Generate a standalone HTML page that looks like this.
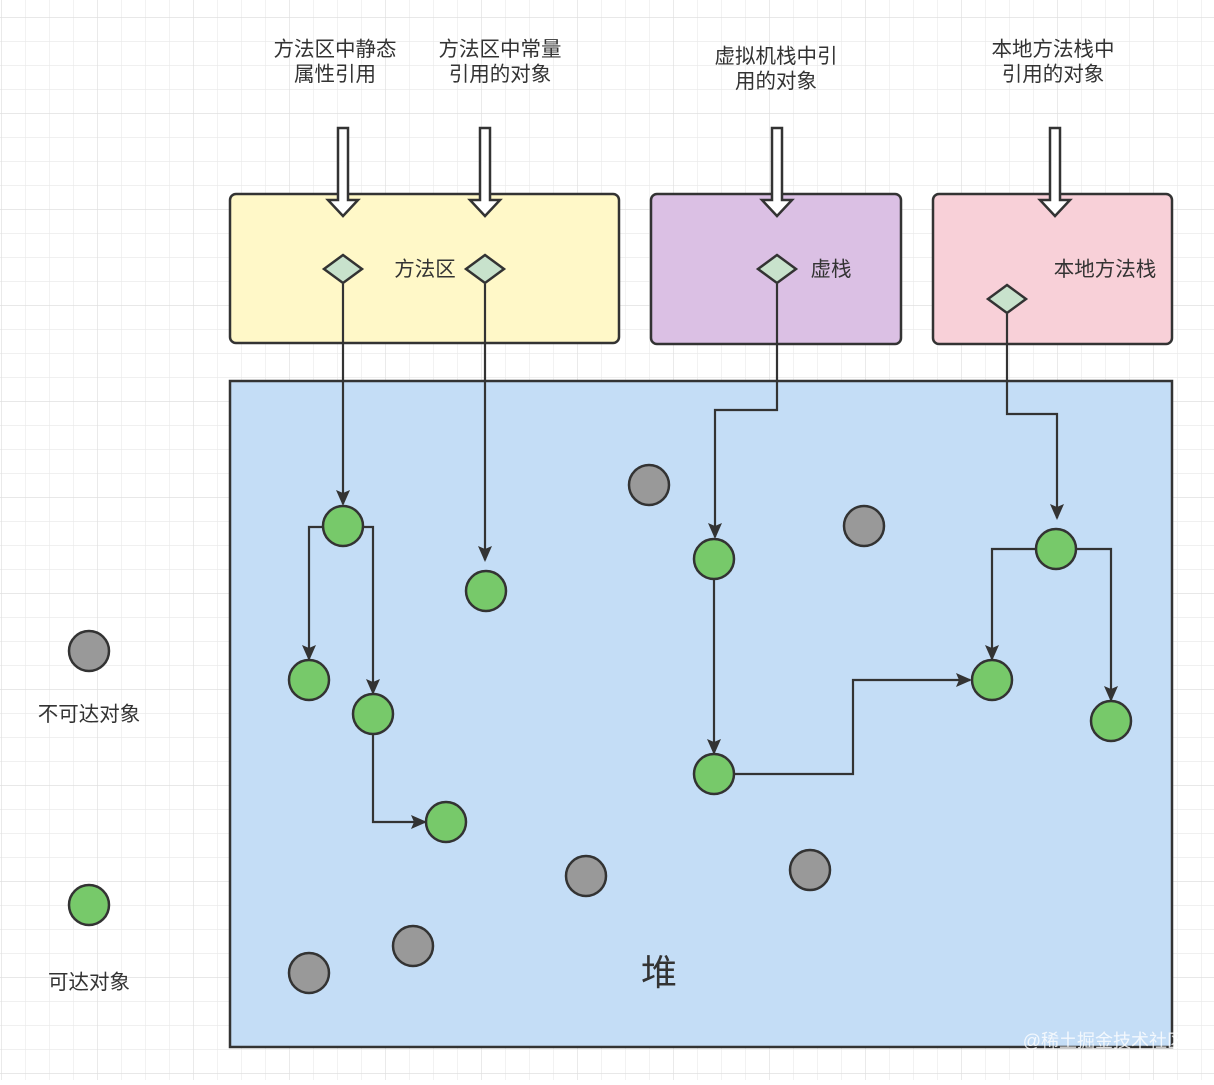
<!DOCTYPE html>
<html><head><meta charset="utf-8"><style>
html,body{margin:0;padding:0;background:#fff}
svg text{font-family:"Liberation Sans","Noto Sans CJK SC",sans-serif;fill:#333}
</style></head><body>
<svg width="1214" height="1080" viewBox="0 0 1214 1080" xmlns="http://www.w3.org/2000/svg">
<defs>
<pattern id="g" x="1" y="17" width="24" height="24" patternUnits="userSpaceOnUse">
<path d="M0 0H24M0 0V24" stroke="#e8e8e8" stroke-width="1.2" fill="none"/>
</pattern>
<pattern id="G" x="1" y="17" width="96" height="96" patternUnits="userSpaceOnUse">
<path d="M0 0H96M0 0V96" stroke="#dedede" stroke-width="1.2" fill="none"/>
</pattern>
<marker id="a" markerWidth="16" markerHeight="16" refX="14" refY="7" orient="auto" markerUnits="userSpaceOnUse" viewBox="0 0 16 14">
<path d="M0 0L16 7L0 14L3 7z" fill="#333"/>
</marker>
</defs>
<rect width="1214" height="1080" fill="#fff"/>
<rect width="1214" height="1080" fill="url(#g)"/>
<rect width="1214" height="1080" fill="url(#G)"/>

<rect x="230" y="194" width="389" height="149" rx="6" fill="#fff8c8" stroke="#333" stroke-width="2.5"/>
<rect x="651" y="194" width="250" height="150" rx="6" fill="#dbc0e4" stroke="#333" stroke-width="2.5"/>
<rect x="933" y="194" width="239" height="150" rx="6" fill="#f8d0d8" stroke="#333" stroke-width="2.5"/>
<rect x="230" y="381" width="942" height="666" fill="#c4ddf6" stroke="#333" stroke-width="2.5"/>

<g font-size="20.5" text-anchor="middle">
<text x="335" y="56">方法区中静态</text><text x="335" y="81">属性引用</text>
<text x="500" y="56">方法区中常量</text><text x="500" y="81">引用的对象</text>
<text x="776" y="63">虚拟机栈中引</text><text x="776" y="88">用的对象</text>
<text x="1053" y="56">本地方法栈中</text><text x="1053" y="81">引用的对象</text>
<text x="425" y="276">方法区</text>
<text x="831" y="276">虚栈</text>
<text x="1105" y="276">本地方法栈</text>
<text x="89" y="721">不可达对象</text>
<text x="89" y="989">可达对象</text>
<text x="659" y="985" font-size="36">堆</text>
</g>
<text x="1185" y="1047" font-size="18" text-anchor="end" style="fill:#fff;opacity:.8">@稀土掘金技术社区</text>

<g fill="#fff" stroke="#333" stroke-width="2.5" stroke-linejoin="miter">
<path d="M338 128h10v72h10l-15 16l-15-16h10z"/>
<path d="M480 128h10v72h10l-15 16l-15-16h10z"/>
<path d="M772 128h10v72h10l-15 16l-15-16h10z"/>
<path d="M1050 128h10v72h10l-15 16l-15-16h10z"/>
</g>

<g fill="none" stroke="#333" stroke-width="2.2">
<path d="M343 284V504" marker-end="url(#a)"/>
<path d="M485 284V560" marker-end="url(#a)"/>
<path d="M777 284V410H715V537" marker-end="url(#a)"/>
<path d="M1007 314V414H1057V518" marker-end="url(#a)"/>
<path d="M323 527H309V659" marker-end="url(#a)"/>
<path d="M363 527H373V693" marker-end="url(#a)"/>
<path d="M373 734V822H425" marker-end="url(#a)"/>
<path d="M714 579V753" marker-end="url(#a)"/>
<path d="M734 774H853V680H970" marker-end="url(#a)"/>
<path d="M1036 549H992V659" marker-end="url(#a)"/>
<path d="M1076 549H1111V700" marker-end="url(#a)"/>
</g>

<g fill="#c8e2cc" stroke="#333" stroke-width="2.5">
<path d="M343 255l19 14l-19 14l-19-14z"/>
<path d="M485 255l19 14l-19 14l-19-14z"/>
<path d="M777 255l19 14l-19 14l-19-14z"/>
<path d="M1007 285l19 14l-19 14l-19-14z"/>
</g>

<g stroke="#333" stroke-width="2.5">
<g fill="#999">
<circle cx="649" cy="485" r="20"/><circle cx="864" cy="526" r="20"/>
<circle cx="586" cy="876" r="20"/><circle cx="810" cy="870" r="20"/>
<circle cx="413" cy="946" r="20"/><circle cx="309" cy="973" r="20"/>
<circle cx="89" cy="651" r="20"/>
</g>
<g fill="#77c96a">
<circle cx="343" cy="526" r="20"/><circle cx="486" cy="591" r="20"/>
<circle cx="309" cy="680" r="20"/><circle cx="373" cy="714" r="20"/>
<circle cx="446" cy="822" r="20"/><circle cx="714" cy="559" r="20"/>
<circle cx="714" cy="774" r="20"/><circle cx="1056" cy="549" r="20"/>
<circle cx="992" cy="680" r="20"/><circle cx="1111" cy="721" r="20"/>
<circle cx="89" cy="905" r="20"/>
</g>
</g>
</svg>
</body></html>
